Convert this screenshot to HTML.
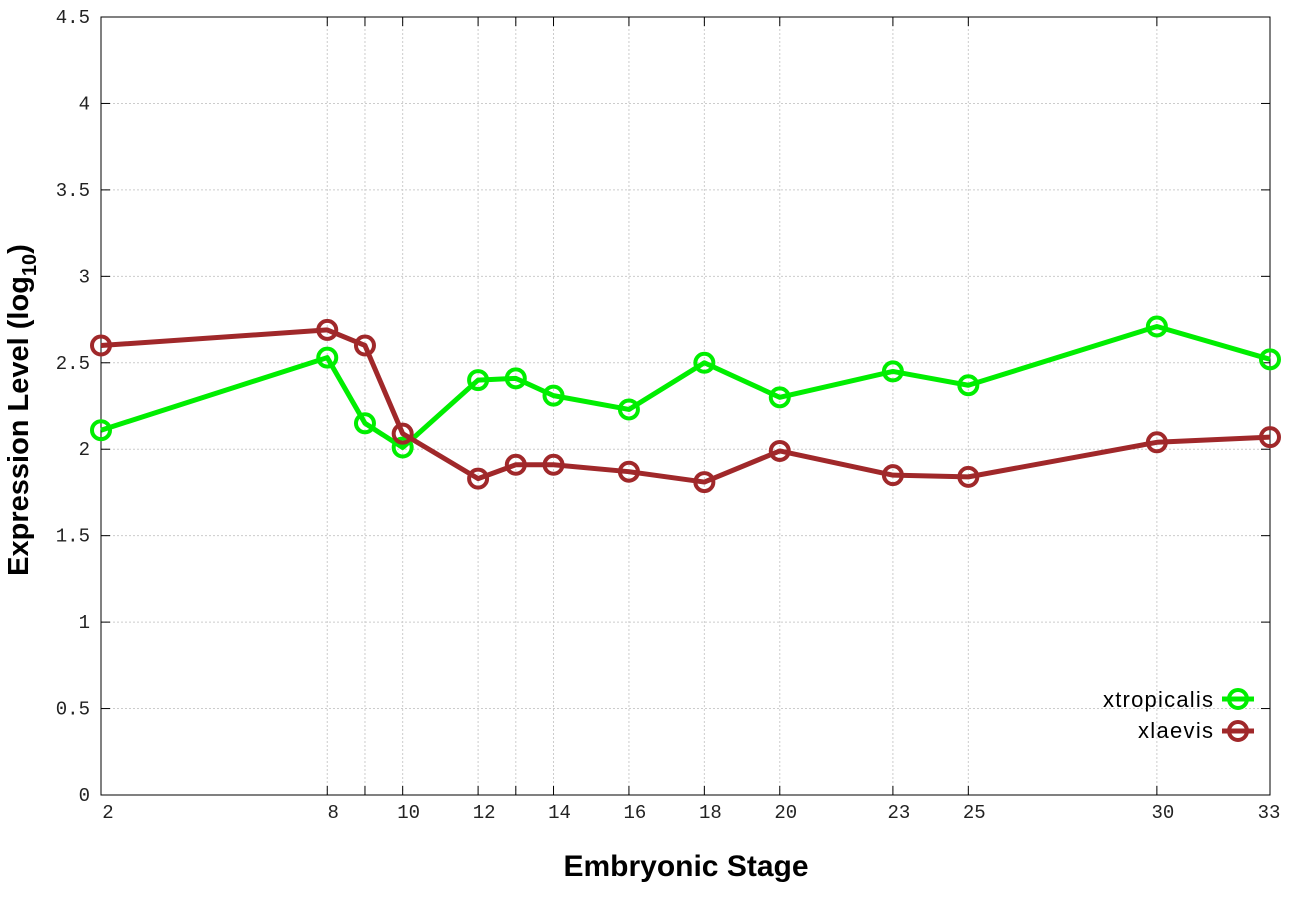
<!DOCTYPE html>
<html><head><meta charset="utf-8"><style>body{margin:0;background:#fff}svg{display:block}</style></head>
<body>
<svg id="s" width="1296" height="907" xmlns="http://www.w3.org/2000/svg">
<rect width="1296" height="907" fill="#fff"/>
<g id="grid"></g>
<rect x="101" y="17" width="1169" height="778" fill="none" stroke="#000" stroke-width="1"/>
<g id="ticks" font-family="Liberation Mono, monospace" font-size="19" fill="#222"></g>
<g id="data"></g>
<text x="686" y="876" text-anchor="middle" font-family="Liberation Sans, sans-serif" font-weight="bold" font-size="30">Embryonic Stage</text>
<text transform="translate(28,410) rotate(-90)" text-anchor="middle" font-family="Liberation Sans, sans-serif" font-weight="bold" font-size="29">Expression Level (log<tspan font-size="20" dy="8">10</tspan><tspan dy="-8">)</tspan></text>
<g font-family="Liberation Sans, sans-serif" font-size="22" text-anchor="end">
<text x="1213" y="707" textLength="110">xtropicalis</text>
<text x="1213" y="738" textLength="75">xlaevis</text>
</g>
<line x1="1222" y1="699" x2="1254" y2="699" stroke="#00ee00" stroke-width="5"/>
<circle cx="1238" cy="699" r="9" fill="none" stroke="#00ee00" stroke-width="4"/>
<line x1="1222" y1="731" x2="1254" y2="731" stroke="#a0282a" stroke-width="5"/>
<circle cx="1238" cy="731" r="9" fill="none" stroke="#a0282a" stroke-width="4"/>
</svg>
<script>
var NS="http://www.w3.org/2000/svg";
function el(p,t,a,txt){var e=document.createElementNS(NS,t);for(var k in a)e.setAttribute(k,a[k]);if(txt!=null)e.textContent=txt;document.getElementById(p).appendChild(e);return e;}
function X(s){return 101+(s-2)*1169/31;}
function Y(v){return 795-v*778/4.5;}
var st=[2,8,9,10,12,13,14,16,18,20,23,25,30,33];
var lab=[2,8,10,12,14,16,18,20,23,25,30,33];
for(var i=1;i<9;i++){var y=Y(i*0.5);el("grid","line",{x1:101,x2:1270,y1:y,y2:y,stroke:"#ccc","stroke-dasharray":"2,2"});}
st.forEach(function(s){var x=X(s);if(s>2&&s<33)el("grid","line",{x1:x,x2:x,y1:17,y2:795,stroke:"#ccc","stroke-dasharray":"2,2"});
el("ticks","line",{x1:x,x2:x,y1:795,y2:786,stroke:"#000"});el("ticks","line",{x1:x,x2:x,y1:17,y2:26,stroke:"#000"});});
lab.forEach(function(s){el("ticks","text",{x:X(s)+(s==2?7:s==33?-1:6),y:818,"text-anchor":"middle"},String(s));});
for(var i=0;i<=9;i++){var v=i*0.5,y=Y(v);el("ticks","line",{x1:101,x2:110,y1:y,y2:y,stroke:"#000"});el("ticks","line",{x1:1261,x2:1270,y1:y,y2:y,stroke:"#000"});
el("ticks","text",{x:90,y:y+6,"text-anchor":"end"},String(v));}
var g=[2.11,2.53,2.15,2.01,2.40,2.41,2.31,2.23,2.50,2.30,2.45,2.37,2.71,2.52];
var r=[2.60,2.69,2.60,2.09,1.83,1.91,1.91,1.87,1.81,1.99,1.85,1.84,2.04,2.07];
function series(d,c){var pts=st.map(function(s,i){return X(s)+","+Y(d[i]);}).join(" ");
el("data","polyline",{points:pts,fill:"none",stroke:c,"stroke-width":5,"stroke-linejoin":"round"});
st.forEach(function(s,i){el("data","circle",{cx:X(s),cy:Y(d[i]),r:9,fill:"none",stroke:c,"stroke-width":4});});}
series(g,"#00ee00");series(r,"#a0282a");
</script>
</body></html>
